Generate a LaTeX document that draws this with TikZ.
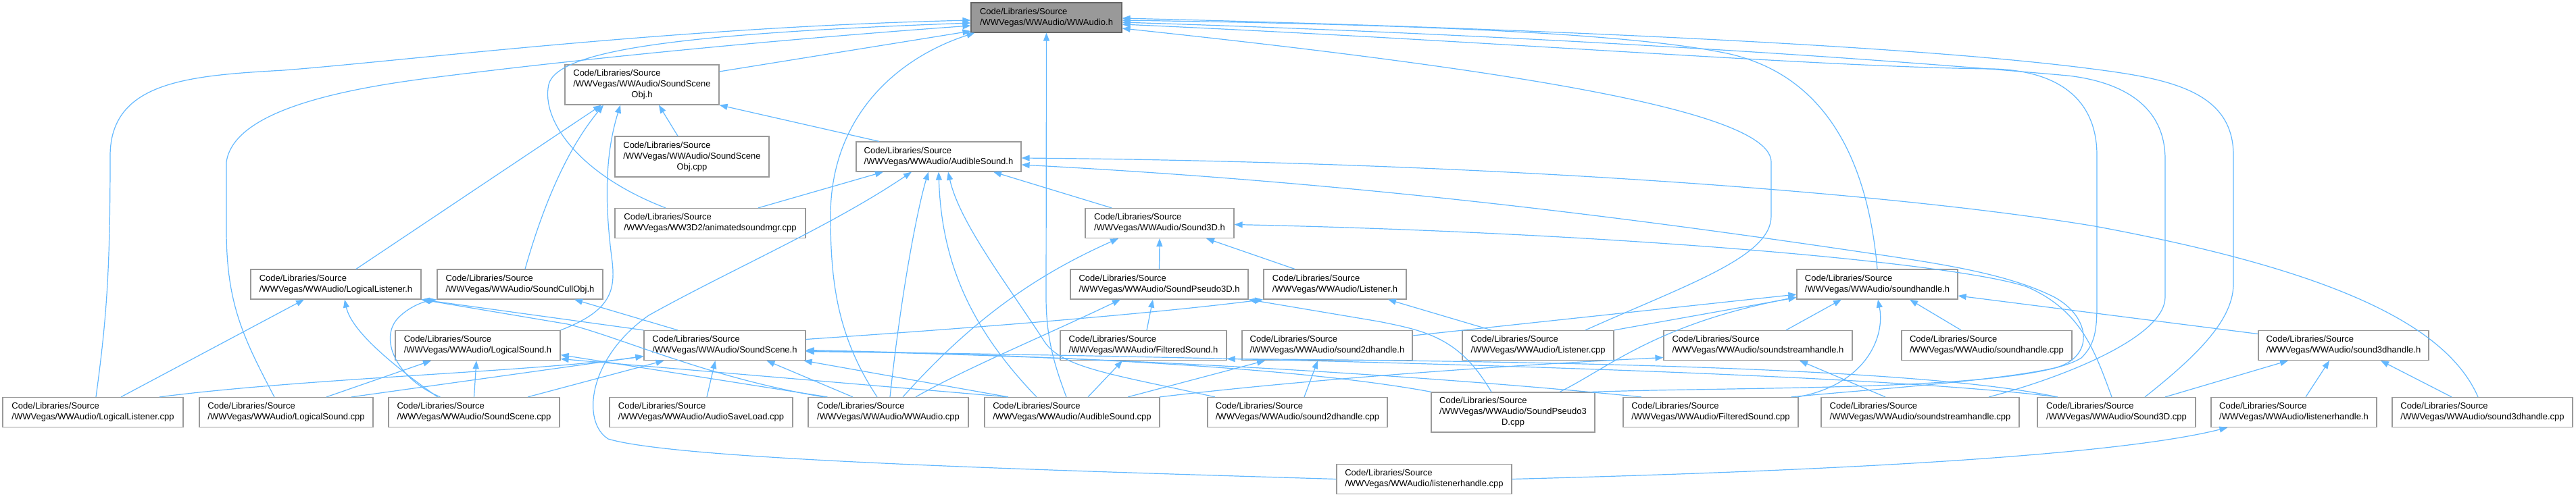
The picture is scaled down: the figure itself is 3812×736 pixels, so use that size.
\documentclass[tikz,border=0pt]{standalone}
\usepackage{fontspec}
\setmainfont{Liberation Sans}
\usetikzlibrary{arrows.meta}
\definecolor{depblue}{HTML}{63B8FF}
\definecolor{boxgray}{HTML}{999999}
\definecolor{rootgray}{HTML}{666666}
\newcommand{\lastrow}[1]{\multicolumn{1}{@{}c@{}}{#1}}

\begin{document}
\begin{tikzpicture}[x=1pt, y=-1pt,
    dep/.style = {draw=depblue, line width=1.2pt, -{Triangle[length=12pt, width=9pt]}}]
  \useasboundingbox (0,0) rectangle (3812,736);
  \begin{scope}[every node/.style = {draw=boxgray, line width=1.2pt, fill=white, inner sep=0pt,
      align=left, minimum height=44pt, font=\fontsize{13}{16}\selectfont}]
    \node[fill=boxgray, draw=rootgray, minimum width=223pt] (T) at (1548.5, 26) {Code/Libraries/Source\\/WWVegas/WWAudio/WWAudio.h};
    \node[minimum width=228pt, minimum height=59pt] (SSOh)   at (950, 125.5)  {\begin{tabular}{@{}l@{}}Code/Libraries/Source\\/WWVegas/WWAudio/SoundScene\\\lastrow{Obj.h}\end{tabular}};
    \node[minimum width=228pt, minimum height=60pt] (SSOcpp) at (1024, 232)   {\begin{tabular}{@{}l@{}}Code/Libraries/Source\\/WWVegas/WWAudio/SoundScene\\\lastrow{Obj.cpp}\end{tabular}};
    \node[minimum width=282pt] (ASM)     at (1051, 330.5)   {Code/Libraries/Source\\/WWVegas/WW3D2/animatedsoundmgr.cpp};
    \node[minimum width=244pt] (ASh)     at (1389, 232)     {Code/Libraries/Source\\/WWVegas/WWAudio/AudibleSound.h};
    \node[minimum width=220pt] (S3Dh)    at (1716, 330.5)   {Code/Libraries/Source\\/WWVegas/WWAudio/Sound3D.h};
    \node[minimum width=252pt] (LLh)     at (497, 421)      {Code/Libraries/Source\\/WWVegas/WWAudio/LogicalListener.h};
    \node[minimum width=245pt] (SCOh)    at (769.5, 421)    {Code/Libraries/Source\\/WWVegas/WWAudio/SoundCullObj.h};
    \node[minimum width=263pt] (SP3Dh)   at (1715.5, 421)   {Code/Libraries/Source\\/WWVegas/WWAudio/SoundPseudo3D.h};
    \node[minimum width=211pt] (Lh)      at (1975.5, 421)   {Code/Libraries/Source\\/WWVegas/WWAudio/Listener.h};
    \node[minimum width=238pt] (SHh)     at (2778, 421)     {Code/Libraries/Source\\/WWVegas/WWAudio/soundhandle.h};
    \node[minimum width=244pt] (LSh)     at (707, 511.5)    {Code/Libraries/Source\\/WWVegas/WWAudio/LogicalSound.h};
    \node[minimum width=239pt] (SSh)     at (1072.5, 511.5) {Code/Libraries/Source\\/WWVegas/WWAudio/SoundScene.h};
    \node[minimum width=246pt] (FSh)     at (1692, 511.5)   {Code/Libraries/Source\\/WWVegas/WWAudio/FilteredSound.h};
    \node[minimum width=252pt] (S2Hh)    at (1964, 511.5)   {Code/Libraries/Source\\/WWVegas/WWAudio/sound2dhandle.h};
    \node[minimum width=224pt] (Lcpp)    at (2276, 511.5)   {Code/Libraries/Source\\/WWVegas/WWAudio/Listener.cpp};
    \node[minimum width=279pt] (SSHh)    at (2601.5, 511.5) {Code/Libraries/Source\\/WWVegas/WWAudio/soundstreamhandle.h};
    \node[minimum width=252pt] (SHcpp)   at (2940, 511.5)   {Code/Libraries/Source\\/WWVegas/WWAudio/soundhandle.cpp};
    \node[minimum width=252pt] (S3Hh)    at (3468, 511.5)   {Code/Libraries/Source\\/WWVegas/WWAudio/sound3dhandle.h};
    \node[minimum width=267pt] (LLcpp)   at (137.5, 610.5)  {Code/Libraries/Source\\/WWVegas/WWAudio/LogicalListener.cpp};
    \node[minimum width=257pt] (LScpp)   at (423.5, 610.5)  {Code/Libraries/Source\\/WWVegas/WWAudio/LogicalSound.cpp};
    \node[minimum width=253pt] (SScpp)   at (701.5, 610.5)  {Code/Libraries/Source\\/WWVegas/WWAudio/SoundScene.cpp};
    \node[minimum width=271pt] (ASLcpp)  at (1037.5, 610.5) {Code/Libraries/Source\\/WWVegas/WWAudio/AudioSaveLoad.cpp};
    \node[minimum width=237pt] (WWAcpp)  at (1314.5, 610.5) {Code/Libraries/Source\\/WWVegas/WWAudio/WWAudio.cpp};
    \node[minimum width=259pt] (AScpp)   at (1586.5, 610.5) {Code/Libraries/Source\\/WWVegas/WWAudio/AudibleSound.cpp};
    \node[minimum width=266pt] (S2Hcpp)  at (1920, 610.5)   {Code/Libraries/Source\\/WWVegas/WWAudio/sound2dhandle.cpp};
    \node[minimum width=242pt, minimum height=59pt] (SP3Dcpp) at (2239, 610.5) {\begin{tabular}{@{}l@{}}Code/Libraries/Source\\/WWVegas/WWAudio/SoundPseudo3\\\lastrow{D.cpp}\end{tabular}};
    \node[minimum width=259pt] (FScpp)   at (2531.5, 610.5) {Code/Libraries/Source\\/WWVegas/WWAudio/FilteredSound.cpp};
    \node[minimum width=293pt] (SSHcpp)  at (2841.5, 610.5) {Code/Libraries/Source\\/WWVegas/WWAudio/soundstreamhandle.cpp};
    \node[minimum width=234pt] (S3Dcpp)  at (3132, 610.5)   {Code/Libraries/Source\\/WWVegas/WWAudio/Sound3D.cpp};
    \node[minimum width=245pt] (LHh)     at (3394.5, 610.5) {Code/Libraries/Source\\/WWVegas/WWAudio/listenerhandle.h};
    \node[minimum width=267pt] (S3Hcpp)  at (3673.5, 610.5) {Code/Libraries/Source\\/WWVegas/WWAudio/sound3dhandle.cpp};
    \node[minimum width=259pt] (LHcpp)   at (2107.5, 709.5) {Code/Libraries/Source\\/WWVegas/WWAudio/listenerhandle.cpp};
  \end{scope}

  % WWAudio.h
  \draw[dep] ([yshift=19.5]SSOh.east) -- ([yshift=-20]T.west);
  \draw[dep] ([xshift=4.5]LLcpp.north) .. controls (158,470) and (163,400) .. (163,231) .. controls (163,120) and (280,112) .. (420,104) .. controls (600,90) and (1000,40) .. ([yshift=-4]T.west);
  \draw[dep] ([xshift=-17.5]LScpp.north) .. controls (360,500) and (335,450) .. (335,340) -- (335,240) .. controls (345,170) and (480,135) .. (640,115) .. controls (900,82) and (1200,55) .. ([yshift=-12]T.west);
  \draw[dep] ([xshift=-66]ASM.north) .. controls (860,260) and (800,180) .. (812,125) .. controls (825,75) and (1000,50) .. ([yshift=-8]T.west);
  \draw[dep] ([xshift=-16.5]WWAcpp.north) .. controls (1240,500) and (1229,420) .. (1229,320) .. controls (1229,170) and (1330,85) .. ([xshift=6]T.south west);
  \draw[dep] ([xshift=-8.5]AScpp.north) .. controls (1560,540) and (1548,500) .. (1548,440) -- (T.south);
  \draw[dep] ([xshift=70]Lcpp.north) .. controls (2500,420) and (2621,380) .. (2621,320) -- (2621,240) .. controls (2621,170) and (2300,110) .. ([yshift=-16]T.east);
  \draw[dep] (SHh.north) .. controls (2765,250) and (2710,115) .. (2560,80) .. controls (2400,45) and (2000,35) .. ([yshift=-4]T.east);
  \draw[dep] ([xshift=-5]SP3Dcpp.north east) .. controls (2600,572) and (3000,580) .. (3080,530) .. controls (3100,510) and (3103,490) .. (3103,450) -- (3103,230) .. controls (3103,150) and (3050,105) .. (2950,102) .. controls (2700,100) and (2200,60) .. ([yshift=-10]T.east);
  \draw[dep] ([xshift=101.5]SSHcpp.north) .. controls (3050,560) and (3204,500) .. (3204,440) -- (3204,236) .. controls (3204,150) and (3130,120) .. (3060,112) .. controls (2700,80) and (2200,50) .. ([yshift=-7]T.east);
  \draw[dep] ([xshift=42]S3Dcpp.north) .. controls (3260,520) and (3305,470) .. (3305,420) -- (3305,230) .. controls (3305,130) and (3200,115) .. (3080,100) .. controls (2800,65) and (2200,40) .. ([yshift=-1]T.east);

  % SoundSceneObj.h
  \draw[dep] ([xshift=30]LLh.north) -- ([xshift=-60]SSOh.south);
  \draw[dep] ([xshift=7.5]SCOh.north) .. controls (805,300) and (840,220) .. ([xshift=-57]SSOh.south);
  \draw[dep] (LSh.north east) .. controls (905,460) and (912,430) .. (905,380) .. controls (895,300) and (895,230) .. ([xshift=-32]SSOh.south);
  \draw[dep] ([xshift=-21]SSOcpp.north) -- ([xshift=25]SSOh.south);
  \draw[dep] ([xshift=-88]ASh.north) -- (SSOh.south east);

  % AudibleSound.h
  \draw[dep] ([xshift=71]ASM.north) -- ([xshift=-82]ASh.south);
  \draw[dep] (LHcpp.west) .. controls (1500,695) and (1000,680) .. (900,650) .. controls (860,625) and (870,530) .. (960,467) .. controls (1080,400) and (1230,335) .. ([xshift=-40]ASh.south);
  \draw[dep] ([xshift=2.5]WWAcpp.north) .. controls (1335,420) and (1360,300) .. ([xshift=-15]ASh.south);
  \draw[dep] ([xshift=-52.5]AScpp.north) .. controls (1430,480) and (1393,380) .. (ASh.south);
  \draw[dep] ([xshift=-122]S2Hcpp.north) .. controls (1650,555) and (1570,545) .. (1545,505) .. controls (1490,420) and (1420,330) .. ([xshift=14]ASh.south);
  \draw[dep] ([xshift=-71]S3Dh.north) -- ([xshift=81]ASh.south);
  \draw[dep] ([xshift=-6.5]S3Hcpp.north) .. controls (3620,480) and (3450,400) .. (3100,335) .. controls (2800,285) and (2200,240) .. ([yshift=-2]ASh.east);
  \draw[dep] ([xshift=-11]FScpp.north east) .. controls (2750,578) and (2950,565) .. (3040,545) .. controls (3100,530) and (3095,470) .. (3040,440) .. controls (2980,410) and (2900,395) .. (2800,380) .. controls (2400,320) and (2000,270) .. ([yshift=-12]ASh.east);

  % Sound3D.h
  \draw[dep] (SP3Dh.north) -- (S3Dh.south);
  \draw[dep] ([xshift=-59.5]Lh.north) -- ([xshift=69]S3Dh.south);
  \draw[dep] ([xshift=21.5]WWAcpp.north) .. controls (1450,460) and (1550,400) .. ([xshift=-61]S3Dh.south);
  \draw[dep] ([xshift=-7]S3Dcpp.north) .. controls (3100,520) and (3080,460) .. (3000,425) .. controls (2900,390) and (2400,345) .. ([yshift=-2]S3Dh.east);

  % SoundPseudo3D.h, Listener.h
  \draw[dep] ([xshift=5]FSh.north) -- ([xshift=-9.5]SP3Dh.south);
  \draw[dep] ([xshift=40.5]WWAcpp.north) .. controls (1430,545) and (1540,500) .. ([xshift=-57.5]SP3Dh.south);
  \draw[dep] ([xshift=-32]SP3Dcpp.north) .. controls (2160,500) and (2110,490) .. (2040,476) -- (SP3Dh.south east);
  \draw[dep] ([yshift=9]SSh.east) .. controls (1450,485) and (1700,465) .. (Lh.south west);
  \draw[dep] ([xshift=-69]Lcpp.north) -- ([xshift=78.5]Lh.south);

  % LogicalListener.h, SoundCullObj.h
  \draw[dep] ([xshift=41.5]LLcpp.north) -- ([xshift=-47]LLh.south);
  \draw[dep] ([xshift=-54]SScpp.north) .. controls (580,540) and (520,490) .. ([xshift=13]LLh.south);
  \draw[dep] (SSh.north west) -- (LLh.south east);
  \draw[dep] ([xshift=-95.5]WWAcpp.north) .. controls (1050,560) and (920,500) .. (840,480) -- (LLh.south east);
  \draw[dep] ([xshift=-69.5]SSh.north) -- ([xshift=80.5]SCOh.south);
  \draw[dep] ([xshift=-50]SScpp.north) .. controls (585,560) and (560,500) .. (590,470) .. controls (605,455) and (625,447) .. (SCOh.south west);

  % LogicalSound.h
  \draw[dep] ([xshift=59.5]LScpp.north) -- ([xshift=-69]LSh.south);
  \draw[dep] (SScpp.north) -- ([xshift=-2]LSh.south);
  \draw[dep] ([xshift=-90]WWAcpp.north) -- ([yshift=-14]LSh.east);
  \draw[dep] ([xshift=-94.5]AScpp.north) -- ([yshift=-20]LSh.east);

  % SoundScene.h
  \draw[dep] ([xshift=98.5]LLcpp.north) .. controls (450,560) and (800,550) .. ([yshift=-16]SSh.west);
  \draw[dep] ([xshift=96.5]LScpp.north) -- ([yshift=-16]SSh.west);
  \draw[dep] ([xshift=79.5]SScpp.north) -- ([xshift=-90]SSh.south);
  \draw[dep] ([xshift=8.5]ASLcpp.north) -- ([xshift=-14]SSh.south);
  \draw[dep] ([xshift=-52.5]WWAcpp.north) -- ([xshift=62]SSh.south);
  \draw[dep] ([xshift=-94.5]AScpp.north) -- ([xshift=-3]SSh.south east);
  \draw[dep] ([xshift=-121]SP3Dcpp.north) .. controls (1900,540) and (1500,525) .. ([yshift=-7]SSh.east);
  \draw[dep] ([xshift=-102.5]FScpp.north) .. controls (2000,545) and (1500,525) .. ([yshift=-8]SSh.east);
  \draw[dep] ([xshift=-87]S3Dcpp.north) .. controls (2700,545) and (1600,525) .. ([yshift=-9]SSh.east);

  % FilteredSound.h, sound2dhandle.h
  \draw[dep] ([xshift=23.5]AScpp.north) -- ([xshift=-31]FSh.south);
  \draw[dep] ([xshift=-88]S3Dcpp.north) .. controls (2850,545) and (2300,535) .. ([yshift=-20]FSh.east);
  \draw[dep] ([xshift=10]S2Hcpp.north) -- ([xshift=-14]S2Hh.south);
  \draw[dep] ([xshift=82.5]AScpp.north) -- ([xshift=-92]S2Hh.south);

  % soundhandle.h
  \draw[dep] ([yshift=14.5]S2Hh.east) -- ([yshift=-15]SHh.west);
  \draw[dep] (Lcpp.north east) -- ([yshift=3]SHh.south west);
  \draw[dep] ([xshift=69]SP3Dcpp.north) .. controls (2380,545) and (2450,480) .. ([yshift=-19]SHh.west);
  \draw[dep] ([xshift=41.5]SSHh.north) -- ([xshift=-53]SHh.south);
  \draw[dep] ([xshift=128.5]FScpp.north) .. controls (2760,570) and (2790,500) .. ([xshift=1]SHh.south);
  \draw[dep] ([xshift=-38]SHcpp.north) -- ([xshift=48]SHh.south);
  \draw[dep] ([yshift=17]S3Hh.west) -- ([yshift=-17]SHh.east);

  % soundstreamhandle.h, sound3dhandle.h, listenerhandle.h
  \draw[dep] ([xshift=-51.5]SSHcpp.north) -- ([xshift=61.5]SSHh.south);
  \draw[dep] ([xshift=129.5]AScpp.north) .. controls (1950,560) and (2250,540) .. ([yshift=-18]SSHh.west);
  \draw[dep] ([xshift=72]S3Dcpp.north) -- ([xshift=-82]S3Hh.south);
  \draw[dep] ([xshift=17.5]LHh.north) -- ([xshift=-21]S3Hh.south);
  \draw[dep] ([xshift=-45.5]S3Hcpp.north) -- ([xshift=55]S3Hh.south);
  \draw[dep] (LHcpp.east) .. controls (2800,695) and (3150,670) .. ([xshift=25]LHh.south west);
\end{tikzpicture}
\end{document}
